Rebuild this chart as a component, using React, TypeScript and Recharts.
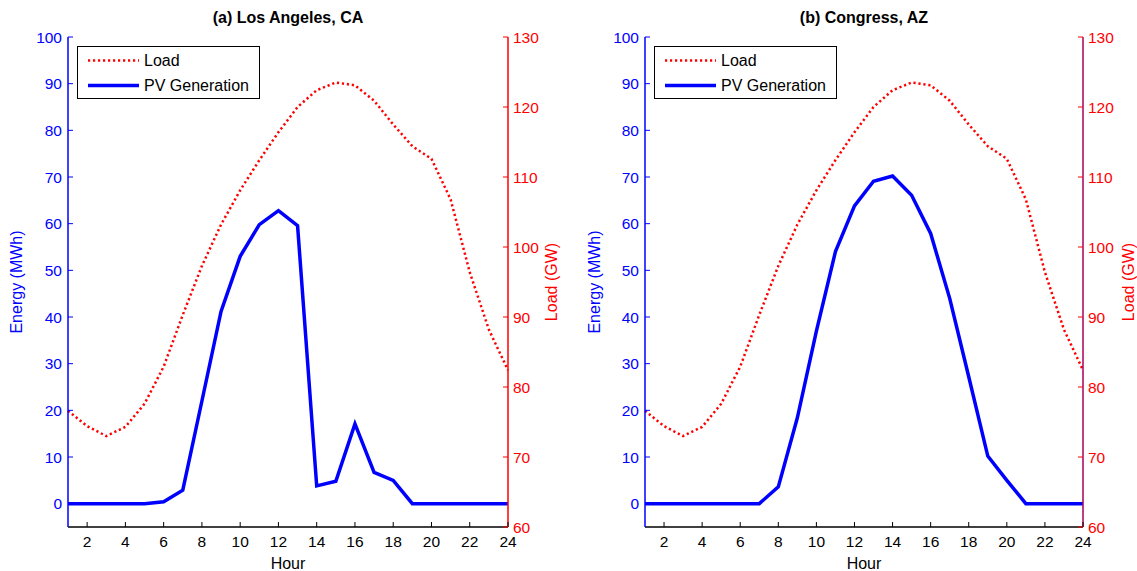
import { LineChart, Line, XAxis, YAxis, Legend } from 'recharts'

const hours = [1, 2, 3, 4, 5, 6, 7, 8, 9, 10, 11, 12, 13, 14, 15, 16, 17, 18, 19, 20, 21, 22, 23, 24]
const loadGW = [76.6, 74.4, 73.0, 74.3, 77.6, 82.9, 90.3, 97.3, 103.2, 108.1, 112.4, 116.4, 120.0, 122.4, 123.5, 123.1, 120.9, 117.5, 114.4, 112.6, 106.8, 96.4, 88.2, 82.4]
const pvLosAngeles = [0, 0, 0, 0, 0, 0.4, 2.9, 22, 41.2, 53.0, 59.8, 62.8, 59.6, 3.8, 4.8, 17.1, 6.7, 5.0, 0, 0, 0, 0, 0, 0]
const pvCongress = [0, 0, 0, 0, 0, 0, 0, 3.6, 18.4, 37, 54, 63.8, 69.1, 70.2, 66.1, 57.9, 44, 27.2, 10.2, 5, 0, 0, 0, 0]
const energyTicks = [0, 10, 20, 30, 40, 50, 60, 70, 80, 90, 100]
const loadTicks = [60, 70, 80, 90, 100, 110, 120, 130]
const hourTicks = [2, 4, 6, 8, 10, 12, 14, 16, 18, 20, 22, 24]

const BLUE = '#0000ff'
const RED = '#ff0000'
const FONT = '"Liberation Sans", Arial, sans-serif'
const W = 570
const H = 571
const LOAD_DASH = '2.2 2.8'

function EnergyTick({ x, y, payload }: any) {
  return (
    <g>
      <line x1={x} y1={y} x2={x + 5} y2={y} stroke={BLUE} />
      <text x={x - 6} y={y + 5.5} textAnchor="end" fill={BLUE} fontSize={15.5} fontFamily={FONT}>
        {payload.value}
      </text>
    </g>
  )
}

function EnergyMirrorTick({ x, y }: any) {
  return <line x1={x} y1={y} x2={x - 5} y2={y} stroke={BLUE} />
}

function LoadTick({ x, y, payload }: any) {
  return (
    <g>
      <line x1={x} y1={y} x2={x - 5} y2={y} stroke={RED} />
      <text x={x + 5} y={y + 5.5} textAnchor="start" fill={RED} fontSize={15.5} fontFamily={FONT}>
        {payload.value}
      </text>
    </g>
  )
}

function HourTick({ x, y, payload }: any) {
  return (
    <g>
      <line x1={x} y1={y} x2={x} y2={y - 5} stroke="#000" />
      <text x={x} y={y + 20} textAnchor="middle" fill="#000" fontSize={15.5} fontFamily={FONT}>
        {payload.value}
      </text>
    </g>
  )
}

function TopTick({ x, y }: any) {
  return <line x1={x} y1={y} x2={x} y2={y + 5} stroke="#000" />
}

function LegendBox({ payload }: any) {
  return (
    <div
      style={{
        border: '1.5px solid #000',
        background: '#fff',
        width: 181,
        height: 50,
        paddingTop: 1,
        fontFamily: FONT,
        fontSize: 16,
      }}
    >
      {(payload || []).map((entry: any) => (
        <div key={entry.value} style={{ display: 'flex', alignItems: 'center', height: 25 }}>
          <svg width={66} height={25}>
            <line
              x1={10}
              x2={61}
              y1={12.5}
              y2={12.5}
              stroke={entry.color}
              strokeWidth={entry.dataKey === 'load' ? 2.5 : 3.5}
              strokeDasharray={entry.dataKey === 'load' ? LOAD_DASH : undefined}
            />
          </svg>
          <span style={{ color: '#000' }}>{entry.value}</span>
        </div>
      ))}
    </div>
  )
}

function Panel({ title, pv, left, marginLeft, energyWidth, loadWidth, energyLabelOffset, loadLabelOffset, loadAxisColor }: any) {
  const rows = hours.map((h, i) => ({ hour: h, load: loadGW[i], pv: pv[i] }))
  const plotLeft = marginLeft + energyWidth
  const plotRight = W - loadWidth
  return (
    <div style={{ position: 'absolute', left, top: 0, width: W, height: H }}>
      <LineChart width={W} height={H} data={rows} margin={{ top: 37, right: 0, bottom: 0, left: marginLeft }}>
        <XAxis
          dataKey="hour"
          type="number"
          domain={[1, 24]}
          ticks={hourTicks}
          interval={0}
          height={44}
          tickSize={0}
          tickMargin={0}
          tickLine={false}
          tick={<HourTick />}
          axisLine={{ stroke: '#000', strokeWidth: 1.5 }}
          label={{ value: 'Hour', position: 'insideBottom', offset: 2, fill: '#000', fontSize: 16, fontFamily: FONT }}
        />
        <XAxis
          xAxisId="top"
          orientation="top"
          dataKey="hour"
          type="number"
          domain={[1, 24]}
          ticks={hourTicks}
          interval={0}
          height={0}
          tickSize={0}
          tickMargin={0}
          tickLine={false}
          tick={<TopTick />}
          axisLine={{ stroke: '#000', strokeWidth: 1.5 }}
        />
        <YAxis
          yAxisId="energy"
          orientation="left"
          type="number"
          domain={[-5, 100]}
          ticks={energyTicks}
          interval={0}
          width={energyWidth}
          tickSize={0}
          tickMargin={0}
          tickLine={false}
          tick={<EnergyTick />}
          axisLine={{ stroke: BLUE, strokeWidth: 1.5 }}
          label={{
            value: 'Energy (MWh)',
            angle: -90,
            position: 'insideLeft',
            offset: energyLabelOffset,
            fill: BLUE,
            fontSize: 16,
            fontFamily: FONT,
            style: { textAnchor: 'middle' },
          }}
        />
        <YAxis
          yAxisId="energyMirror"
          orientation="right"
          type="number"
          domain={[-5, 100]}
          ticks={energyTicks}
          interval={0}
          width={0}
          tickSize={0}
          tickMargin={0}
          tickLine={false}
          tick={<EnergyMirrorTick />}
          axisLine={false}
        />
        <YAxis
          yAxisId="load"
          orientation="right"
          type="number"
          domain={[60, 130]}
          ticks={loadTicks}
          interval={0}
          width={loadWidth}
          tickSize={0}
          tickMargin={0}
          tickLine={false}
          tick={<LoadTick />}
          axisLine={{ stroke: loadAxisColor, strokeWidth: 1.5 }}
          label={{
            value: 'Load (GW)',
            angle: -90,
            position: 'insideRight',
            offset: loadLabelOffset,
            fill: RED,
            fontSize: 16,
            fontFamily: FONT,
            style: { textAnchor: 'middle' },
          }}
        />
        <Legend
          layout="vertical"
          align="center"
          verticalAlign="middle"
          content={<LegendBox />}
          wrapperStyle={{ left: plotLeft + 9, top: 46, width: 'auto' }}
        />
        <Line
          yAxisId="load"
          dataKey="load"
          name="Load"
          type="linear"
          stroke={RED}
          strokeWidth={2.5}
          strokeDasharray={LOAD_DASH}
          dot={false}
          activeDot={false}
          isAnimationActive={false}
        />
        <Line
          yAxisId="energy"
          dataKey="pv"
          name="PV Generation"
          type="linear"
          stroke={BLUE}
          strokeWidth={3.5}
          dot={false}
          activeDot={false}
          isAnimationActive={false}
        />
      </LineChart>
      <div
        style={{
          position: 'absolute',
          left: plotLeft,
          width: plotRight - plotLeft,
          top: 9,
          textAlign: 'center',
          fontWeight: 'bold',
          fontSize: 16,
          lineHeight: '18px',
          fontFamily: FONT,
          color: '#000',
        }}
      >
        {title}
      </div>
    </div>
  )
}

export default function App() {
  return (
    <div style={{ position: 'absolute', left: 0, top: 0, width: 1137, height: 571, background: '#fff' }}>
      <Panel
        title="(a) Los Angeles, CA"
        pv={pvLosAngeles}
        left={0}
        marginLeft={0}
        energyWidth={68}
        loadWidth={62}
        energyLabelOffset={16}
        loadLabelOffset={19}
        loadAxisColor={RED}
      />
      <Panel
        title="(b) Congress, AZ"
        pv={pvCongress}
        left={567}
        marginLeft={10}
        energyWidth={68}
        loadWidth={54}
        energyLabelOffset={17}
        loadLabelOffset={9}
        loadAxisColor="#a8005a"
      />
    </div>
  )
}
